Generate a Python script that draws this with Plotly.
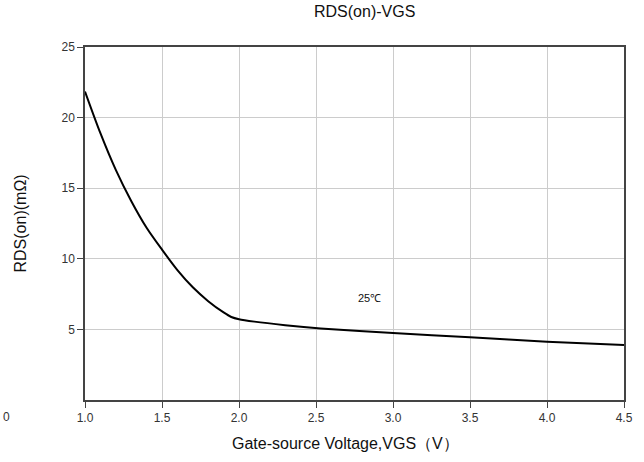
import plotly.graph_objects as go

vgs = [1.0, 1.1, 1.2, 1.3, 1.4, 1.5, 1.6, 1.7, 1.8, 1.9, 1.95, 2.0, 2.1, 2.3, 2.53, 3.0, 3.5, 4.0, 4.5]
rds = [21.85, 18.9, 16.3, 14.1, 12.2, 10.65, 9.2, 7.98, 7.0, 6.2, 5.88, 5.72, 5.55, 5.3, 5.07,
       4.74, 4.44, 4.13, 3.9]

x_ticks = [1.0, 1.5, 2.0, 2.5, 3.0, 3.5, 4.0, 4.5]
x_tick_labels = ["1.0", "1.5", "2.0", "2.5", "3.0", "3.5", "4.0", "4.5"]
y_ticks = [5, 10, 15, 20, 25]
y_tick_labels = ["5", "10", "15", "20", "25"]

font_family = "Liberation Sans, Arial, sans-serif"

fig = go.Figure()
fig.add_trace(go.Scatter(x=vgs, y=rds, mode="lines",
                         line=dict(color="black", width=2, shape="spline", smoothing=0.8),
                         showlegend=False, hoverinfo="skip"))

axis_common = dict(showgrid=True, gridcolor="#cccccc", gridwidth=1,
                   showline=True, linecolor="#444444", linewidth=1.5, mirror=True,
                   ticks="outside", tickcolor="#444444", ticklen=6,
                   tickfont=dict(family=font_family, size=12, color="#333333"),
                   zeroline=False)

W, H = 644, 462
L, R, T, B = 85, 20, 47, 62
pw, ph = W - L - R, H - T - B

fig.update_layout(
    width=W, height=H,
    margin=dict(l=L, r=R, t=T, b=B),
    paper_bgcolor="white", plot_bgcolor="white",
    xaxis=dict(range=[1.0, 4.5], tickvals=x_ticks, ticktext=x_tick_labels, **axis_common),
    yaxis=dict(range=[0, 25], tickvals=y_ticks, ticktext=y_tick_labels, **axis_common),
    annotations=[
        dict(text="RDS(on)-VGS", x=(364 - L) / pw, y=1 + (T - 12) / ph, xref="paper", yref="paper",
             showarrow=False, yanchor="middle",
             font=dict(family=font_family, size=16, color="#111111")),
        dict(text="25℃", x=2.85, y=7.2, xref="x", yref="y", showarrow=False,
             font=dict(family=font_family, size=11, color="#111111")),
        dict(text="Gate-source Voltage,VGS（V）", x=(345 - L) / pw, y=-(443 - (H - B)) / ph,
             xref="paper", yref="paper", showarrow=False, yanchor="middle",
             font=dict(family=font_family, size=16, color="#111111")),
        dict(text="RDS(on)(mΩ)", x=-(L - 20) / pw, y=0.5, xref="paper", yref="paper",
             showarrow=False, textangle=-90, xanchor="center",
             font=dict(family=font_family, size=16, color="#111111")),
        dict(text="0", x=-(L - 1) / pw, y=-(417 - (H - B)) / ph, xref="paper", yref="paper",
             showarrow=False, xanchor="left", yanchor="middle",
             font=dict(family=font_family, size=12, color="#333333")),
    ],
)

fig.write_html("out.html")
